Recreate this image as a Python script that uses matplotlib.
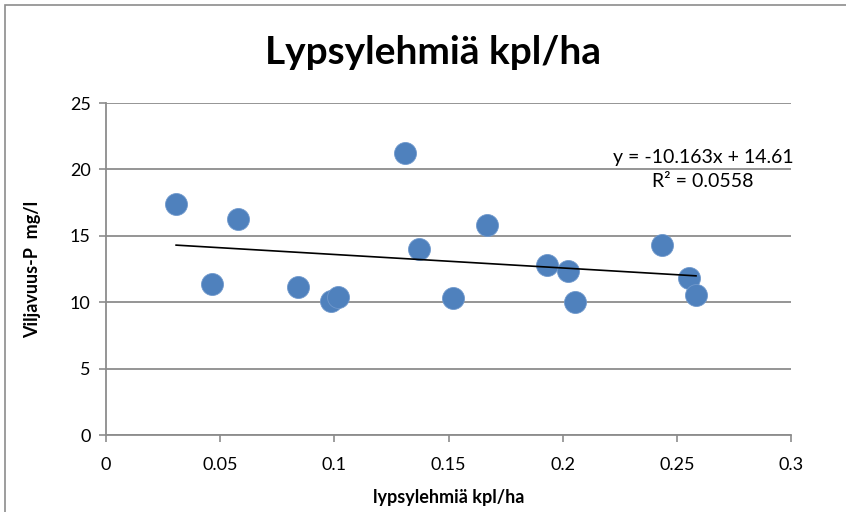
import matplotlib.pyplot as plt
from matplotlib.patches import Rectangle

# lehmät / ha vs viljavuus-P
lehmat = [0.0307, 0.0464, 0.0578, 0.0840, 0.0984, 0.1015, 0.1311, 0.1370,
          0.1521, 0.1669, 0.1932, 0.2024, 0.2053, 0.2435, 0.2552, 0.2584]
fosfori = [17.4, 11.37, 16.29, 11.12, 10.07, 10.37, 21.21, 14.03,
           10.32, 15.79, 12.83, 12.32, 10.02, 14.33, 11.82, 10.57]
slope, intercept, r2 = -10.163, 14.61, 0.0558

xticks = [0, 0.05, 0.1, 0.15, 0.2, 0.25, 0.3]
yticks = [0, 5, 10, 15, 20, 25]

plt.rcParams['font.family'] = ['Lato', 'DejaVu Sans']

fig = plt.figure(figsize=(8.46, 5.12), dpi=100)
fig.patches.append(Rectangle((5 / 846, -0.1), 1.1, 1 - 5 / 512 + 0.1,
                             transform=fig.transFigure, fill=False,
                             edgecolor='#8c8c8c', linewidth=1.2))

ax = fig.add_axes([106 / 846, 77 / 512, 685 / 846, 332 / 512])
ax.set_xlim(0, 0.3)
ax.set_ylim(0, 25)
ax.set_xticks(xticks)
ax.set_yticks(yticks)
ax.set_xticklabels([f'{t:g}' for t in xticks])
ax.tick_params(labelsize=13, color='#8c8c8c', length=5, width=1.2, pad=6)
ax.tick_params(axis='x', pad=11)
ax.yaxis.grid(True, color='#8c8c8c', linewidth=1.3)
ax.set_axisbelow(True)
for s in ['top', 'right']:
    ax.spines[s].set_visible(False)
for s in ['left', 'bottom']:
    ax.spines[s].set_color('#8c8c8c')
    ax.spines[s].set_linewidth(1.3)

ax.scatter(lehmat, fosfori, s=250, color='#4f81bd', edgecolor='#6f98cc',
           linewidth=0.6, zorder=3)
xs = [min(lehmat), max(lehmat)]
ax.plot(xs, [slope * x + intercept for x in xs], color='black', linewidth=1.2, zorder=4)

ax.text(0.2615, 18.45, f'y = {slope}x + {intercept}\nR² = {r2}', ha='center',
        va='bottom', fontsize=14, linespacing=1.5)

fig.text(433 / 846, 1 - 53 / 512, 'Lypsylehmiä kpl/ha', ha='center', va='center',
         fontsize=28, fontweight='bold')
ax.set_xlabel('lypsylehmiä kpl/ha', fontsize=13, fontweight='bold', labelpad=11)
ax.set_ylabel('Viljavuus-P  mg/l', fontsize=13, fontweight='bold', labelpad=21)

fig.savefig('out.png', dpi=100)
